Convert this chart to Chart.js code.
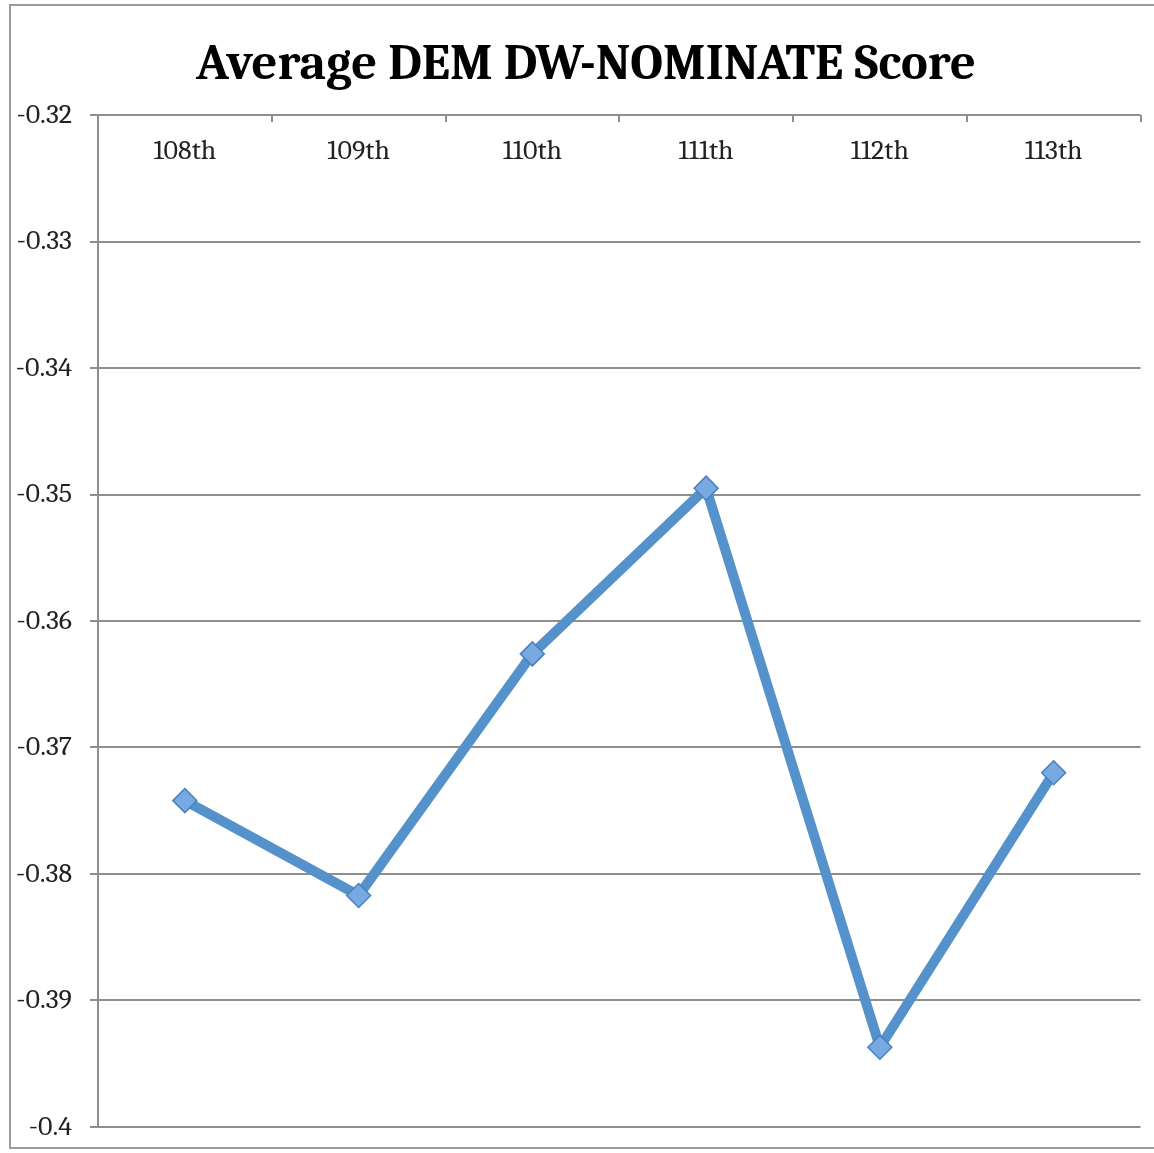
<!DOCTYPE html>
<html>
<head>
<meta charset="utf-8">
<script src="https://cdn.jsdelivr.net/npm/chart.js@4.4.1/dist/chart.umd.min.js"></script>
<style>
  html, body { margin: 0; padding: 0; background: #fff; overflow: hidden; }
  #frame { position: absolute; left: 9px; top: 4px; width: 1160px; height: 1145px; border: 2px solid #9a9a9a; box-sizing: border-box; }
  #chart { position: absolute; left: 0; top: 0; }
</style>
</head>
<body>
<div id="frame"></div>
<canvas id="chart" width="1154" height="1153"></canvas>
<script>
// ====== DATA ======
const congresses = ['108th', '109th', '110th', '111th', '112th', '113th'];
const demScores  = [-0.3742, -0.3817, -0.3626, -0.3495, -0.3937, -0.3720];
const yMin = -0.4, yMax = -0.32, yStep = 0.01;
const titleText = 'Average DEM DW-NOMINATE Score';

// ====== STYLE ======
const GRID  = '#8e8e8e';
const LINE  = '#5591cb';
const SERIF = 'Cambria, "DejaVu Serif", "Liberation Serif", serif';

// title + top category axis drawn inside the plot (labels under the line, ticks pointing down)
const topAxis = {
  id: 'topAxis',
  afterDraw(chart) {
    const { ctx, chartArea } = chart;
    const x = chart.scales.x;
    const n = congresses.length;
    const step = x.width / n;
    ctx.save();
    ctx.strokeStyle = GRID;
    ctx.lineWidth = 2;
    for (let i = 1; i <= n; i++) {
      const bx = Math.round(x.left + i * step);
      ctx.beginPath();
      ctx.moveTo(bx, chartArea.top);
      ctx.lineTo(bx, chartArea.top + 7);
      ctx.stroke();
    }
    ctx.fillStyle = '#222';
    ctx.font = '28px ' + SERIF;
    ctx.textAlign = 'center';
    ctx.textBaseline = 'middle';
    congresses.forEach((c, i) => {
      ctx.fillText(c, x.getPixelForValue(i), chartArea.top + 36);
    });

    // title
    ctx.fillStyle = '#000';
    ctx.font = 'bold 50.5px ' + SERIF;
    ctx.textBaseline = 'alphabetic';
    ctx.fillText(titleText, 586, 79);
    ctx.restore();
  }
};

new Chart(document.getElementById('chart'), {
  type: 'line',
  data: {
    labels: congresses,
    datasets: [{
      data: demScores,
      borderColor: LINE,
      borderWidth: 10,
      tension: 0,
      pointStyle: 'rectRot',
      pointRadius: 12,
      pointBackgroundColor: '#78a9e0',
      pointBorderColor: '#4a80bd',
      pointBorderWidth: 1.5
    }]
  },
  options: {
    responsive: false,
    animation: false,
    layout: { padding: { top: 115, right: 9, bottom: 26, left: 10 } },
    plugins: {
      legend: { display: false },
      tooltip: { enabled: false },
      title: { display: false }
    },
    scales: {
      x: {
        display: false,
        offset: true,
        afterFit(scale) { scale.paddingLeft = 0; scale.paddingRight = 0; }
      },
      y: {
        min: yMin,
        max: yMax,
        afterFit(scale) {
          scale.width = 88;
          scale.paddingTop = 0;
          scale.paddingBottom = 0;
        },
        ticks: {
          stepSize: yStep,
          padding: 18,
          color: '#222',
          font: { family: SERIF, size: 28 },
          callback: v => String(Math.round(v * 100) / 100)
        },
        grid: { color: GRID, lineWidth: 2, tickLength: 8, tickColor: GRID },
        border: { color: GRID, width: 2 }
      }
    }
  },
  plugins: [topAxis]
});
</script>
</body>
</html>
